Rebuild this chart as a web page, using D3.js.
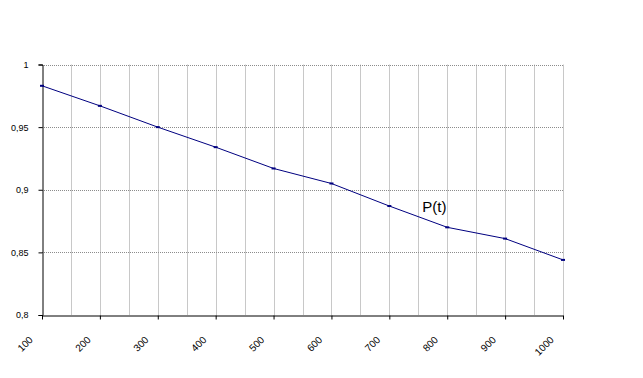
<!DOCTYPE html>
<html>
<head>
<meta charset="utf-8">
<script src="https://cdn.jsdelivr.net/npm/d3@7"></script>
<style>
  body { margin: 0; background: #fff; }
  text { font-family: Arial, "Liberation Sans", sans-serif; }
</style>
</head>
<body>
<script>
var categories = [100, 200, 300, 400, 500, 600, 700, 800, 900, 1000];
var values = [0.983, 0.967, 0.950, 0.934, 0.917, 0.905, 0.887, 0.870, 0.861, 0.844];
var yTicks = [0.8, 0.85, 0.9, 0.95, 1];
var seriesName = "P(t)";

var width = 643, height = 378;
var plotLeft = 42, plotRight = 563, plotTop = 64.5, plotBottom = 315;

var svg = d3.select("body").append("svg")
    .attr("width", width)
    .attr("height", height);

var x = d3.scalePoint()
    .domain(categories)
    .range([plotLeft, plotRight]);

var y = d3.scaleLinear()
    .domain([0.8, 1])
    .range([plotBottom, plotTop]);

var step = x.step();

// vertical gridlines at every half step
var vLines = d3.range(plotLeft + step / 2, plotRight + 1, step / 2);
svg.selectAll("line.vgrid")
    .data(vLines)
    .join("line")
    .attr("class", "vgrid")
    .attr("x1", d => Math.round(d) + 0.5)
    .attr("x2", d => Math.round(d) + 0.5)
    .attr("y1", plotTop)
    .attr("y2", plotBottom)
    .attr("stroke", "#c8c8c8")
    .attr("stroke-width", 1);

// horizontal gridlines
svg.selectAll("line.hgrid")
    .data(yTicks.slice(1))
    .join("line")
    .attr("class", "hgrid")
    .attr("x1", plotLeft)
    .attr("x2", plotRight)
    .attr("y1", d => Math.round(y(d)) + 0.5)
    .attr("y2", d => Math.round(y(d)) + 0.5)
    .attr("stroke", "#8c8c8c")
    .attr("stroke-dasharray", "1,1");

// y axis
var yAxis = d3.axisLeft(y)
    .tickValues(yTicks)
    .tickSize(4)
    .tickFormat(d => d3.format("~g")(d).replace(".", ","));

var gy = svg.append("g")
    .attr("transform", "translate(" + (plotLeft + 0.5) + ",0)")
    .call(yAxis);
gy.select(".domain").attr("stroke", "#000");
gy.selectAll(".tick line").attr("stroke", "#000");
gy.selectAll(".tick text")
    .attr("x", -14)
    .attr("fill", "#000")
    .style("font-size", "9px");

// x axis
var xAxis = d3.axisBottom(x)
    .tickSize(4)
    .tickSizeOuter(0);

var gx = svg.append("g")
    .attr("transform", "translate(0," + (plotBottom + 0.5) + ")")
    .call(xAxis);
gx.select(".domain").attr("stroke", "#000");
gx.selectAll(".tick line").attr("stroke", "#000");
gx.selectAll(".tick text")
    .attr("fill", "#000")
    .style("font-size", "10px")
    .attr("text-anchor", "end")
    .attr("dy", 0)
    .attr("y", 0)
    .attr("x", 0)
    .attr("transform", "translate(-9,25) rotate(-45)");

// series line
var line = d3.line()
    .x((d, i) => x(categories[i]))
    .y(d => y(d));

svg.append("path")
    .datum(values)
    .attr("d", line)
    .attr("fill", "none")
    .attr("stroke", "#000080")
    .attr("stroke-width", 1);

svg.selectAll("rect.mark")
    .data(values)
    .join("rect")
    .attr("class", "mark")
    .attr("x", (d, i) => x(categories[i]) - 2)
    .attr("y", d => y(d) - 1)
    .attr("width", 4)
    .attr("height", 2)
    .attr("fill", "#000080");

// series label
svg.append("text")
    .attr("x", x(800) - 25)
    .attr("y", y(values[7]) - 15)
    .attr("fill", "#000")
    .style("font-size", "15px")
    .text(seriesName);
</script>
</body>
</html>
